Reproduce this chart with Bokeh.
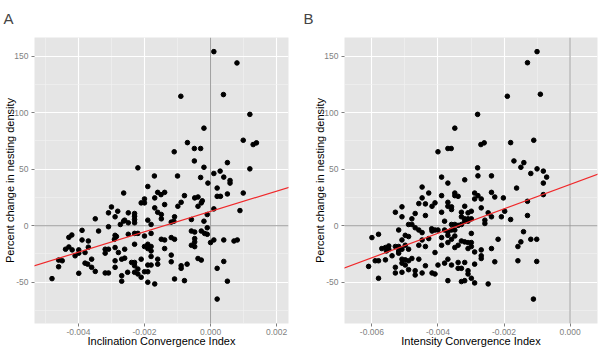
from bokeh.plotting import figure
from bokeh.layouts import row
from bokeh.models import FixedTicker, CustomJSTickFormatter, Span, Slope, ColumnDataSource, Range1d
from bokeh.embed import file_html
from bokeh.resources import INLINE

# ---------------- data (x in units of 0.001) ----------------
# Panel A: Inclination Convergence Index
incl_x_milli = [
    0.10, 0.80, -0.90, 0.39, 1.19, -0.20, -0.70, 0.99, 1.29, 1.39, -1.10, -0.49, -0.30, -0.49, 0.51,
    -2.20, -0.20, 1.19, 0.29, 0.10, -1.70, -1.00, -0.30,
    -2.63, -3.00, -2.81, -3.09, -2.89, -3.49, -2.63, -2.73, -3.09, -3.39, -3.89, -4.20, -4.29, -3.89,
    -3.70, -2.89, -2.85, -2.91, -4.29, -4.39, -4.19, -3.99, -3.70, -3.80, -4.10, -3.99, -3.19, -3.09,
    -2.89, -3.19, -2.79, -4.60, -4.49, -4.60, -3.80, -3.72, -3.60, -3.60, -3.49, -3.99, -3.19, -3.09,
    -2.89, -2.89, -2.69, -2.69, -2.69, -4.80,
    -1.90, -2.00, -2.10, -2.00, -1.69, -1.60, -1.50, -1.39, -1.39, -1.69, -1.60, -1.49, -1.49, -2.49,
    -2.30, -2.30, -2.30, -2.30, -2.60, -2.49, -1.90, -1.80, -2.49, -2.30, -2.20, -2.00, -1.80, -1.19,
    -1.09, -0.99, -0.89, -0.79, -1.11, -0.48, -0.38, -0.28, -0.38, -0.58, -0.08, -1.09, -1.39, -1.49,
    -1.19, -0.58, -0.48, -0.28, -0.18, -0.48, -0.48, -0.58, -0.48, -0.38, -0.28, -2.60, -2.60, -2.30,
    -2.00, -1.90, -1.80, -1.80, -1.80, -1.90, -1.39, -1.60, -1.60, -1.19, -1.19, -2.39, -2.30, -2.30,
    -2.20, -2.30, -2.20, -2.10, -2.00, -1.90, -1.90, -1.80, -2.10, -1.90, -1.69, -2.51, -1.09, -0.89,
    -0.89, -0.79, -0.71,
    0.40, 0.59, 0.59, 0.20, 0.20, 0.30, 0.51, 0.99, 0.10, 0.89, -0.10, -0.10, -0.10, 0.00, 0.10,
    0.40, 0.71, 0.81, 0.40, 0.20, 0.51, 0.20, -0.20, -0.25,
]
incl_change = [
    154.0, 144.0, 114.5, 116.0, 98.5, 86.3, 73.5, 75.6, 71.8, 73.3, 65.4, 68.3, 68.3, 57.3, 55.8,
    51.2, 51.7, 50.3, 48.3, 46.2, 44.0, 44.0, 42.7,
    28.9, 16.6, 12.8, 11.4, 7.9, 6.1, 4.1, 1.1, -0.9, -4.7, -4.1, -8.2, -10.3, -12.6,
    -13.5, -8.5, -9.5, -12.0, -18.8, -20.8, -21.4, -21.4, -19.0, -23.7, -26.6, -24.3, -20.8, -20.8,
    -19.3, -24.3, -23.7, -30.4, -31.0, -36.3, -33.1, -34.0, -29.6, -36.8, -40.4, -42.1, -41.8, -41.8,
    -36.8, -31.0, -29.6, -44.2, -49.1, -46.8,
    34.7, 23.7, 20.2, 20.2, 24.6, 29.5, 27.5, 29.5, 18.7, 15.8, 11.9, 9.9, 6.1, 11.4,
    10.8, 8.4, 5.5, 2.6, 4.9, 2.6, 4.9, 1.1, -7.6, -6.8, -6.8, -9.1, -6.8, 3.2,
    7.9, 17.2, 20.7, 26.6, 4.0, 24.6, 25.4, 20.2, 17.2, 5.5, 37.7, -12.0, -12.6, -12.0,
    -10.5, -4.7, -5.6, -4.7, -6.8, -11.4, -14.3, -17.3, -18.5, -29.0, -30.4, -28.7, -20.8, -16.4,
    -18.4, -16.4, -18.4, -22.3, -27.2, -20.2, -20.2, -29.6, -34.0, -26.0, -31.9, -32.5, -32.5, -35.4,
    -38.3, -41.2, -42.7, -29.6, -40.7, -40.7, -34.8, -34.8, -45.6, -50.0, -51.5, -41.2, -47.1, -35.4,
    -37.7, -48.6, -34.0,
    43.0, 40.0, 37.7, 33.3, 26.0, 26.0, 28.1, 28.9, 14.9, 13.4, 9.9, -1.8, -7.6, -14.9, -12.6,
    -12.6, -13.5, -12.6, -31.6, -37.7, -49.1, -64.9, 4.0, 22.0,
]

# Panel B: Intensity Convergence Index
inten_x_milli = [
    -1.00, -1.29, -1.90, -0.90, -2.80, -3.49, -2.70, -2.60, -1.80, -1.10, -4.00, -3.70, -3.60, -1.70,
    -1.40, -2.80, -1.49, -1.00, -0.81, -1.19, -2.79, -2.38,
    -4.48, -4.48, -4.38, -4.58, -4.28, -4.18, -5.29, -5.09, -4.69, -5.09, -4.79, -4.38, -4.89, -4.79,
    -4.69, -4.58, -4.48, -5.19, -4.99, -4.89, -5.09, -4.48, -4.18, -4.28, -4.38, -4.58, -5.80, -6.00,
    -5.70, -5.59, -5.49, -5.56, -5.49, -5.29, -5.19, -5.19, -5.19, -5.09, -4.99, -4.89, -5.90, -5.80,
    -5.59, -5.39, -6.10, -5.80, -5.09, -4.99, -5.09, -4.99, -4.89, -4.79, -5.29, -5.29, -5.09, -4.89,
    -4.69, -4.69, -4.58, -4.48, -4.38, -4.18,
    -3.89, -3.70, -3.19, -4.09, -3.89, -3.70, -3.70, -3.59, -3.59, -3.49, -3.49, -3.39, -3.89, -3.19,
    -3.29, -3.09, -2.99, -3.19, -3.09, -2.99, -3.29, -2.89, -2.89, -2.79, -2.69, -2.69, -2.48, -2.38,
    -2.28, -2.38, -2.58, -2.58, -2.08, -1.98, -1.80, -2.18, -2.38, -2.28, -1.58, -1.58, -2.48, -2.89,
    -2.69, -2.69, -2.69, -2.99, -2.99, -2.99, -3.09, -3.19, -3.29, -3.09, -2.89, -3.19, -3.39, -3.39,
    -3.29, -3.09, -3.09, -2.99, -3.29, -3.19, -2.89, -3.70, -3.59, -3.70, -3.80, -4.00, -4.09, -4.09,
    -3.89, -3.89, -3.70, -3.59, -3.70, -3.49, -3.39, -3.49, -3.59, -3.70, -3.49, -3.49, -3.39, -3.29,
    -3.59, -3.19, -3.09, -3.80, -4.00, -4.09, -4.19, -3.80, -2.02,
    -0.71, -0.81, -1.62, -0.81, -1.29, -1.29, -1.41, -1.49, -1.19, -1.01, -1.01, -1.11,
]
inten_change = [
    154.0, 144.2, 114.5, 116.3, 98.5, 86.3, 71.8, 73.3, 73.5, 75.6, 65.4, 68.3, 68.3, 57.3,
    55.8, 51.2, 51.7, 50.3, 48.3, 46.2, 44.1, 44.1,
    34.2, 24.6, 19.3, 19.6, 28.9, 17.2, 11.9, 16.7, 10.8, 7.9, 6.1, 9.0, 1.1, 1.1,
    -1.8, -3.8, -6.1, -3.8, -8.5, -9.6, -12.6, -12.6, -4.7, -11.4, -18.4, -17.3, -7.6, -10.5,
    -20.2, -19.3, -20.8, -22.3, -17.9, -18.4, -18.4, -22.3, -24.3, -20.8, -17.3, -20.8, -31.0, -31.0,
    -30.2, -26.6, -36.0, -46.5, -29.6, -30.2, -33.1, -34.8, -31.0, -29.0, -36.8, -41.8, -41.2, -38.9,
    -39.8, -43.6, -29.6, -41.8, -35.4, -41.8,
    43.0, 37.7, 40.6, 20.2, 26.6, 20.7, 17.2, 16.7, 14.3, 28.9, 26.6, 26.0, 11.9, 17.2,
    11.9, 11.4, 12.8, 6.1, 6.1, 6.1, 7.9, 28.9, 23.7, 26.6, 23.7, 15.8, 11.4, 29.5,
    25.4, 7.9, 4.9, 2.0, 7.9, 12.8, 5.5, -12.0, -20.2, -31.9, -18.4, -31.0, -51.5, -34.0,
    -21.4, -26.6, -29.0, -6.8, -14.9, -18.4, -14.9, -14.3, -13.5, -20.2, -23.2, -32.5, -32.5, -37.7,
    -37.7, -39.8, -42.7, -46.5, -49.4, -48.6, -50.6, -48.6, -34.8, -29.6, -33.1, -34.8, -42.7, -23.7,
    -10.5, -17.3, -8.5, -12.0, -14.9, -19.3, -17.3, -9.1, -3.8, -5.6, -3.8, 1.1, 0.3, 1.1,
    1.1, 4.0, 4.0, -3.8, -3.8, -3.8, -2.7, 4.0, 24.6,
    43.0, 37.7, 33.3, 27.5, 21.6, 9.0, -5.3, -14.3, -12.0, -12.0, -31.6, -64.9,
]

# fitted regression lines (slope per unit index, intercept in %)
fit_slope_A, fit_intercept_A = 9000.0, 12.6
fit_slope_B, fit_intercept_B = 10800.0, 36.5

y_ticks = [-50, 0, 50, 100, 150]
y_minor = [-75, -25, 25, 75, 125]
xA_ticks = [-0.004, -0.002, 0.0, 0.002]
xA_minor = [-0.005, -0.003, -0.001, 0.001]
xB_ticks = [-0.006, -0.004, -0.002, 0.0]
xB_minor = [-0.005, -0.003, -0.001]

FONT = "Liberation Sans"
PANEL = "#E5E5E5"


def make_panel(letter, xs_milli, ys, xr, xticks, xminor, xlabel, slope, icpt, width, left, right):
    p = figure(width=width, height=349, output_backend="svg", toolbar_location=None,
               x_range=Range1d(*xr), y_range=Range1d(-86.5, 166.5),
               min_border_left=left, min_border_right=right, min_border_top=36, min_border_bottom=24)
    p.background_fill_color = PANEL
    p.border_fill_color = "white"
    p.outline_line_color = None

    p.title.text = letter
    p.title.text_font = FONT
    p.title.text_font_size = "15px"
    p.title.text_font_style = "normal"
    p.title.align = "left"
    p.title.vertical_align = "top"
    p.title.offset = -(left - 3)
    p.title.standoff = 18

    p.xaxis.ticker = FixedTicker(ticks=xticks, minor_ticks=xminor)
    p.yaxis.ticker = FixedTicker(ticks=y_ticks, minor_ticks=y_minor)
    p.xaxis.formatter = CustomJSTickFormatter(code="return tick.toFixed(3);")
    p.yaxis.formatter = CustomJSTickFormatter(code="return tick.toFixed(0);")

    for ax in (p.xaxis, p.yaxis):
        ax.axis_line_color = None
        ax.major_tick_line_color = "#7F7F7F"
        ax.major_tick_out = 3
        ax.major_tick_in = 0
        ax.minor_tick_line_color = None
        ax.major_label_text_font = FONT
        ax.major_label_text_font_size = "8.5px"
        ax.major_label_text_color = "#7F7F7F"
        ax.axis_label_text_font = FONT
        ax.axis_label_text_font_size = "11px"
        ax.axis_label_text_font_style = "normal"
        ax.axis_label_text_color = "black"
    p.yaxis.major_label_standoff = 2
    p.yaxis.axis_label_standoff = -5
    p.xaxis.major_label_standoff = 1
    p.xaxis.axis_label_standoff = -3
    p.xaxis.axis_label = xlabel
    p.yaxis.axis_label = "Percent change in nesting density"

    p.grid.grid_line_color = "white"
    p.grid.grid_line_width = 1.1
    p.grid.minor_grid_line_color = "#F2F2F2"
    p.grid.minor_grid_line_width = 0.6

    p.add_layout(Span(location=0, dimension="width", line_color="#9E9E9E", line_width=1, level="underlay"))
    p.add_layout(Span(location=0, dimension="height", line_color="#9E9E9E", line_width=1, level="underlay"))

    src = ColumnDataSource(data=dict(x=[v / 1000.0 for v in xs_milli], y=ys))
    p.scatter("x", "y", source=src, size=4.6, fill_color="black", line_color="black")
    p.add_layout(Slope(gradient=slope, y_intercept=icpt, line_color="#F0282A", line_width=1.2))
    return p


pA = make_panel("A", incl_x_milli, incl_change, (-0.00533, 0.00236), xA_ticks, xA_minor,
                "Inclination Convergence Index", fit_slope_A, fit_intercept_A, 300, 34, 12)
pB = make_panel("B", inten_x_milli, inten_change, (-0.00683, 0.00083), xB_ticks, xB_minor,
                "Intensity Convergence Index", fit_slope_B, fit_intercept_B, 299, 44, 2)

layout = row(pA, pB)
open("out.html", "w").write(file_html(layout, INLINE))
